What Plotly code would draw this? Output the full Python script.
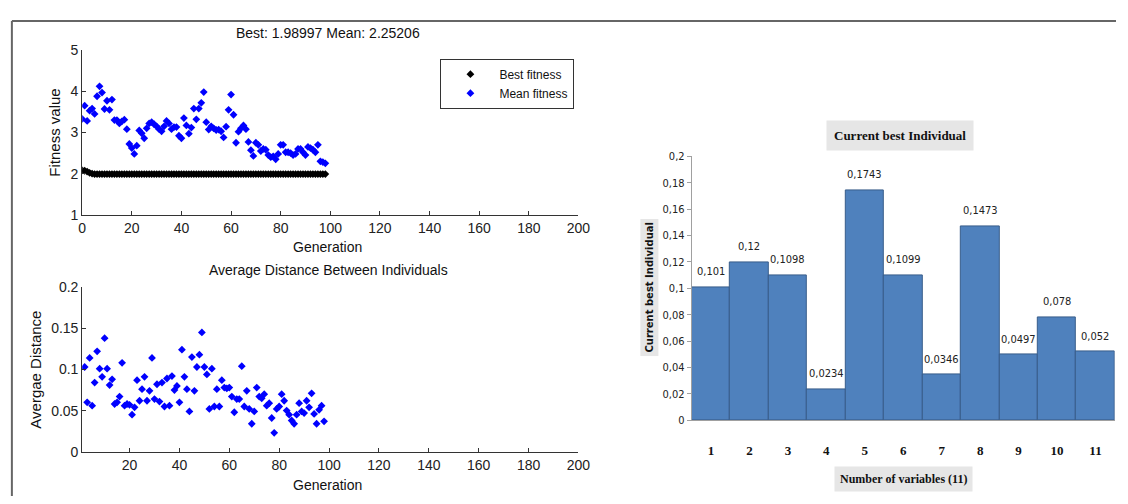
import plotly.graph_objects as go

W, H = 1128, 504

# ---------------- data ----------------
fit_generations = list(range(0, 99))
best_fitness = [2.08, 2.07, 2.05, 2.02, 2.00, 1.99, 1.99, 1.99, 1.99, 1.99,
                1.99, 1.99, 1.99, 1.99, 1.99, 1.99, 1.99, 1.99, 1.99, 1.99,
                1.99, 1.99, 1.99, 1.99, 1.99, 1.99, 1.99, 1.99, 1.99, 1.99,
                1.99, 1.99, 1.99, 1.99, 1.99, 1.99, 1.99, 1.99, 1.99, 1.99,
                1.99, 1.99, 1.99, 1.99, 1.99, 1.99, 1.99, 1.99, 1.99, 1.99,
                1.99, 1.99, 1.99, 1.99, 1.99, 1.99, 1.99, 1.99, 1.99, 1.99,
                1.99, 1.99, 1.99, 1.99, 1.99, 1.99, 1.99, 1.99, 1.99, 1.99,
                1.99, 1.99, 1.99, 1.99, 1.99, 1.99, 1.99, 1.99, 1.99, 1.99,
                1.99, 1.99, 1.99, 1.99, 1.99, 1.99, 1.99, 1.99, 1.99, 1.99,
                1.99, 1.99, 1.99, 1.99, 1.99, 1.99, 1.99, 1.99, 1.99]
mean_fitness = [3.33, 3.65, 3.28, 3.53, 3.58, 3.45, 3.88, 4.12, 3.97, 3.57,
                3.77, 3.55, 3.80, 3.30, 3.30, 3.22, 3.27, 3.31, 3.08, 2.72,
                2.62, 2.48, 2.68, 3.05, 2.98, 2.86, 3.10, 3.22, 3.25, 3.20,
                3.15, 3.08, 3.03, 3.15, 3.28, 3.22, 3.08, 3.13, 3.13, 2.92,
                2.86, 3.35, 3.17, 2.97, 3.12, 3.58, 3.32, 3.58, 3.72, 3.98,
                3.25, 3.07, 3.15, 3.10, 3.06, 3.07, 3.03, 2.88, 3.14, 3.55,
                3.92, 3.43, 2.75, 3.02, 3.10, 3.17, 3.08, 2.77, 2.57, 2.43,
                2.75, 2.70, 2.55, 2.60, 2.58, 2.45, 2.40, 2.42, 2.35, 2.48,
                2.70, 2.70, 2.52, 2.52, 2.50, 2.45, 2.48, 2.60, 2.60, 2.52,
                2.45, 2.65, 2.62, 2.58, 2.52, 2.70, 2.30, 2.28, 2.25]

dist_generations = list(range(2, 99))
avg_distance = [0.103, 0.060, 0.114, 0.056, 0.084, 0.122, 0.101, 0.091, 0.138, 0.101,
                0.081, 0.088, 0.058, 0.060, 0.067, 0.108, 0.056, 0.058, 0.057, 0.045,
                0.054, 0.087, 0.062, 0.076, 0.091, 0.062, 0.074, 0.114, 0.064, 0.082,
                0.061, 0.084, 0.055, 0.089, 0.056, 0.092, 0.075, 0.080, 0.060, 0.124,
                0.091, 0.076, 0.049, 0.115, 0.074, 0.103, 0.118, 0.145, 0.103, 0.094,
                0.052, 0.101, 0.055, 0.076, 0.055, 0.087, 0.078, 0.077, 0.078, 0.067,
                0.048, 0.064, 0.064, 0.104, 0.055, 0.074, 0.052, 0.034, 0.049, 0.078,
                0.067, 0.065, 0.070, 0.056, 0.059, 0.041, 0.023, 0.052, 0.055, 0.070,
                0.062, 0.050, 0.045, 0.038, 0.034, 0.045, 0.059, 0.049, 0.047, 0.062,
                0.054, 0.071, 0.046, 0.034, 0.051, 0.056, 0.037]

variables = ["1", "2", "3", "4", "5", "6", "7", "8", "9", "10", "11"]
best_individual = [0.101, 0.12, 0.1098, 0.0234, 0.1743, 0.1099, 0.0346, 0.1473, 0.0497, 0.078, 0.052]

fit_xticks = [0, 20, 40, 60, 80, 100, 120, 140, 160, 180, 200]
dist_xticks = [20, 40, 60, 80, 100, 120, 140, 160, 180, 200]
bar_yticks = [0, 0.02, 0.04, 0.06, 0.08, 0.1, 0.12, 0.14, 0.16, 0.18, 0.2]
bar_yticktext = ["0", "0,02", "0,04", "0,06", "0,08", "0,1", "0,12", "0,14", "0,16", "0,18", "0,2"]

# ---------------- helpers (page pixel -> paper) ----------------
def px(x):
    return x / W

def py(y):
    return 1 - y / H

MFONT = "Liberation Sans, Arial, sans-serif"
NARROW = "Liberation Sans Narrow, Arial Narrow, DejaVu Sans Condensed, sans-serif"
SERIF = "Liberation Serif, Cambria, serif"

fig = go.Figure()

fig.add_trace(go.Scatter(x=fit_generations, y=best_fitness, mode="markers", name="Best fitness",
                         marker=dict(symbol="diamond", size=6, color="#000000"),
                         xaxis="x", yaxis="y"))
fig.add_trace(go.Scatter(x=fit_generations, y=mean_fitness, mode="markers", name="Mean fitness",
                         marker=dict(symbol="diamond", size=6, color="#0000ff"),
                         xaxis="x", yaxis="y"))
fig.add_trace(go.Scatter(x=dist_generations, y=avg_distance, mode="markers", showlegend=False,
                         marker=dict(symbol="diamond", size=6, color="#0000ff"),
                         xaxis="x2", yaxis="y2"))
fig.add_trace(go.Bar(x=variables, y=best_individual, showlegend=False,
                     marker=dict(color="#4f81bd", line=dict(color="#385d8a", width=1)),
                     xaxis="x3", yaxis="y3"))

left_ax = dict(showline=True, linecolor="#333333", linewidth=1, ticks="inside", ticklen=4,
               tickcolor="#333333", showgrid=False, zeroline=False,
               tickfont=dict(family=MFONT, size=14, color="#222222"))

fig.update_layout(
    width=W, height=H, autosize=False,
    margin=dict(l=0, r=0, t=0, b=0),
    paper_bgcolor="white", plot_bgcolor="white",
    bargap=0,
    xaxis=dict(domain=[px(79.3), px(582.7)], range=[0, 200], tickvals=fit_xticks, anchor="y", **left_ax),
    yaxis=dict(domain=[py(213.6), py(43.5)], range=[1, 5], dtick=1, anchor="x", **left_ax),
    xaxis2=dict(domain=[px(79.3), px(582.7)], range=[1, 200], tickvals=dist_xticks, anchor="y2", **left_ax),
    yaxis2=dict(domain=[py(458.3), py(288.3)], range=[0, 0.2], dtick=0.05, anchor="x2", **left_ax),
    xaxis3=dict(domain=[px(697.7), px(1126.7)], type="category", range=[-0.5, 10.5], anchor="y3",
                showline=True, linecolor="#a0a0a0", linewidth=1, ticks="", showgrid=False,
                zeroline=False, ticklabelstandoff=18,
                tickfont=dict(family=SERIF, size=13, color="#111111", weight="bold")),
    yaxis3=dict(domain=[py(425.7), py(153.3)], range=[0, 0.2], anchor="x3",
                tickvals=bar_yticks, ticktext=bar_yticktext,
                showline=True, linecolor="#a0a0a0", linewidth=1, ticks="outside", ticklen=4,
                tickcolor="#a0a0a0", showgrid=False, zeroline=False,
                tickfont=dict(family=NARROW, size=11, color="#222222")),
    legend=dict(x=px(442.7), y=py(52.3), xanchor="left", yanchor="top",
                bordercolor="#333333", borderwidth=1, bgcolor="white", itemwidth=48,
                font=dict(family=MFONT, size=12, color="#111111"), tracegroupgap=0),
)

def label(text, x, y, size=14, family=MFONT, angle=0, **kw):
    return dict(text=text, x=px(x), y=py(y), xref="paper", yref="paper",
                xanchor="center", yanchor="middle", textangle=angle, showarrow=False,
                font=dict(family=family, size=size, color="#111111"), **kw)

annotations = [
    label("Best: 1.98997 Mean: 2.25206", 328.7, 26),
    label("Generation", 328, 247),
    label("Fitness value", 51, 128.5, size=15, angle=-90),
    label("Average Distance Between Individuals", 329, 271),
    label("Generation", 328, 493),
    label("Avergae Distance", 32, 374, size=15, angle=-90),
    label("<b>Current best Individual</b>", 909, 131.5, size=13, family=SERIF,
          bgcolor="#e6e6e6", borderpad=7),
    label("<b>Number of variables (11)</b>", 912, 486, size=12, family=SERIF,
          bgcolor="#e6e6e6", borderpad=5),
    label("<b>Current best Individual</b>", 655, 289, size=10,
          family="DejaVu Sans, Verdana, sans-serif", angle=-90, bgcolor="#e6e6e6", borderpad=3),
]
for i, val in enumerate(best_individual):
    annotations.append(dict(text=str(val).replace(".", ","), x=i, y=val, xref="x3", yref="y3",
                            xanchor="center", yanchor="bottom", yshift=7, showarrow=False,
                            font=dict(family=NARROW, size=11, color="#222222")))
fig.update_layout(annotations=annotations)

fig.update_layout(shapes=[
    dict(type="line", xref="paper", yref="paper", x0=px(8), x1=1, y0=py(13.5), y1=py(13.5),
         line=dict(color="#666666", width=2)),
    dict(type="line", xref="paper", yref="paper", x0=px(8), x1=px(8), y0=0, y1=py(13.5),
         line=dict(color="#666666", width=2)),
])

fit_page = (
    "document.documentElement.style.overflow='hidden';"
    "document.body.style.margin='0';"
    "document.body.style.overflow='hidden';"
    "var gd=document.getElementById('{plot_id}');"
    "Plotly.relayout(gd,{width:window.innerWidth,height:window.innerHeight});"
)
fig.write_html("out.html", config={"displayModeBar": False}, post_script=fit_page)
